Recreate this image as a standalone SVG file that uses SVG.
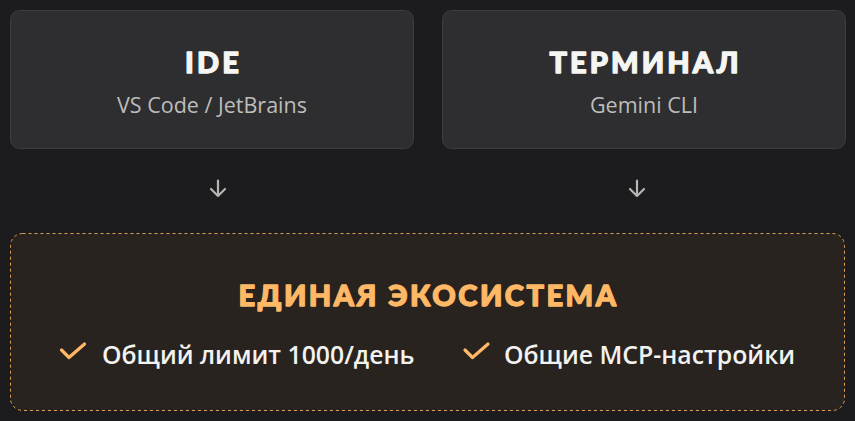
<svg xmlns="http://www.w3.org/2000/svg" width="855" height="421" viewBox="0 0 855 421">
<style>
.card{fill:#2e2e30;stroke:#3c3c3f;stroke-width:1}
.title{font-family:Lato,"Noto Sans",sans-serif;font-weight:900;font-size:29px;letter-spacing:3.1px;fill:#f5f5f3;stroke:#f5f5f3;stroke-width:1.3;stroke-linejoin:round;text-anchor:middle}
.sub{font-family:"Open Sans","Noto Sans",sans-serif;font-size:21.5px;fill:#bdbdbb;text-anchor:middle}
.arrow{fill:none;stroke:#b5b5b3;stroke-width:2.2;stroke-linecap:round;stroke-linejoin:round}
.eco{fill:#28231f;stroke:#e0a050;stroke-width:1;stroke-dasharray:3 3}
.ecot{font-family:Lato,"Noto Sans",sans-serif;font-weight:900;font-size:29px;letter-spacing:2.5px;fill:#ffb866;stroke:#ffb866;stroke-width:1.3;stroke-linejoin:round;text-anchor:middle}
.item{font-family:"Open Sans","Noto Sans",sans-serif;font-weight:600;font-size:24.8px;fill:#f2f2f0}
.check{fill:none;stroke:#ffb866;stroke-width:3.2;stroke-linecap:round;stroke-linejoin:round}
</style>
<rect width="855" height="421" fill="#1c1c1e"/>
<g id="ide">
<rect class="card" x="10.5" y="10.5" width="403" height="138" rx="9"/>
<text class="title" x="213.5" y="73">IDE</text>
<text class="sub" x="212" y="113">VS Code / JetBrains</text>
</g>
<g id="terminal">
<rect class="card" x="442.5" y="10.5" width="403" height="138" rx="9"/>
<text class="title" x="645.5" y="73">ТЕРМИНАЛ</text>
<text class="sub" x="644" y="113">Gemini CLI</text>
</g>
<g id="connectors">
<path class="arrow" d="M218 180.5 V196 M211 189 L218 196 L225 189"/>
<path class="arrow" d="M637 180.5 V196 M630 189 L637 196 L644 189"/>
</g>
<g id="ecosystem">
<rect class="eco" x="10.5" y="233.5" width="834" height="177" rx="12"/>
<text class="ecot" x="428.5" y="306">ЕДИНАЯ ЭКОСИСТЕМА</text>
<path class="check" d="M61.5 350 L69 357.5 L84.5 344"/>
<text class="item" x="102" y="364">Общий лимит 1000/день</text>
<path class="check" d="M465 350 L472.5 357.5 L488 344"/>
<text class="item" x="504" y="364">Общие MCP-настройки</text>
</g>
</svg>
